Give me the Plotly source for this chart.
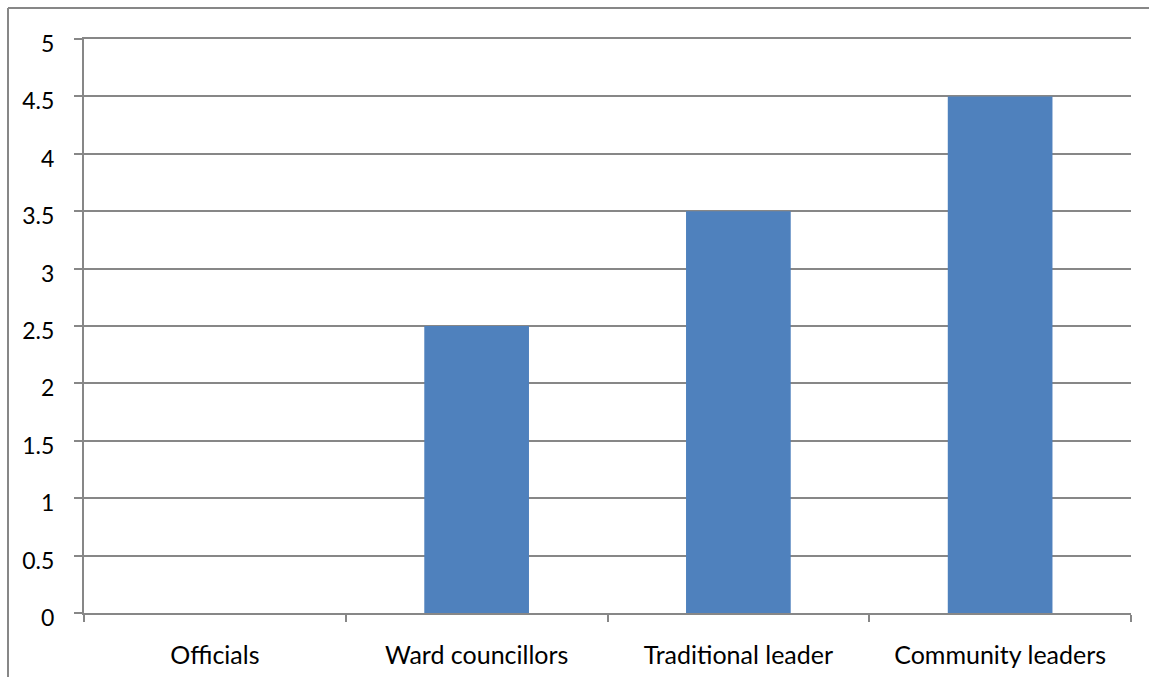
import plotly.graph_objects as go

categories = ["Officials", "Ward councillors", "Traditional leader", "Community leaders"]
values = [0, 2.5, 3.5, 4.5]
y_ticks = [0, 0.5, 1, 1.5, 2, 2.5, 3, 3.5, 4, 4.5, 5]
y_tick_text = ["0", "0.5", "1", "1.5", "2", "2.5", "3", "3.5", "4", "4.5", "5"]

W, H = 1149, 677
L, R, T, B = 84, 18, 39, 64
grid = "#878787"

fig = go.Figure(go.Bar(x=categories, y=values, marker=dict(color="#4F81BD", line=dict(width=0)),
                       hoverinfo="x+y"))

fig.update_layout(
    width=W, height=H,
    margin=dict(l=L, r=R, t=T, b=B, pad=0, autoexpand=False),
    paper_bgcolor="white", plot_bgcolor="white",
    bargap=0.6,
    showlegend=False,
    font=dict(family="Lato, Open Sans, sans-serif", size=24, color="black"),
    xaxis=dict(type="category", showgrid=False, showline=True, linecolor=grid, linewidth=2,
               mirror=True, automargin=False,
               ticks="outside", ticklen=7, tickcolor=grid, tickwidth=2, tickson="boundaries",
               ticklabelstandoff=19, tickfont=dict(size=25)),
    yaxis=dict(range=[0, 5], tickvals=y_ticks, ticktext=y_tick_text, showgrid=True, gridcolor=grid,
               gridwidth=2, showline=True, linecolor=grid, linewidth=2, ticks="outside", ticklen=8,
               automargin=False, ticklabelshift=5,
               tickcolor=grid, tickwidth=2, zeroline=False, ticklabelstandoff=15,
               tickfont=dict(size=23)),
    shapes=[
        dict(type="line", xref="paper", yref="paper", x0=-(L - 8) / (W - L - R), x1=1 + R / (W - L - R),
             y0=1 + (T - 8) / (H - T - B), y1=1 + (T - 8) / (H - T - B), line=dict(color=grid, width=2)),
        dict(type="line", xref="paper", yref="paper", x0=-(L - 8) / (W - L - R), x1=-(L - 8) / (W - L - R),
             y0=1 + (T - 8) / (H - T - B), y1=-B / (H - T - B), line=dict(color=grid, width=2)),
    ],
)

fig.write_html("out.html")
